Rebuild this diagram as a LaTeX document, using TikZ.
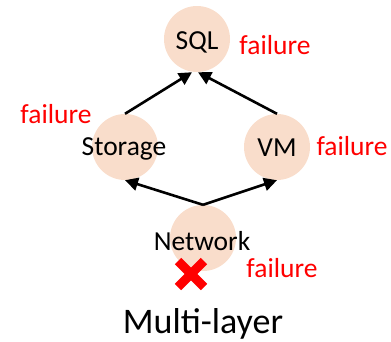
\documentclass[tikz,border=0pt]{standalone}
\usepackage{fontspec}
\setmainfont{Carlito}
\usetikzlibrary{arrows.meta}
\definecolor{peach}{HTML}{F9DDCB}
\definecolor{alarm}{HTML}{FF0000}
\tikzset{
  layer/.style={circle, fill=peach, minimum size=66pt, inner sep=0pt},
  layername/.style={font=\fontsize{27.5}{32}\selectfont, text=black, inner sep=0pt},
  fail/.style={font=\fontsize{27.5}{32}\selectfont, text=alarm, inner sep=0pt},
  dep/.style={line width=2.6pt, -{Triangle[length=13pt,width=13pt]}}
}
\begin{document}
\begin{tikzpicture}[x=1pt, y=-1pt]
\useasboundingbox (0,0) rectangle (391,341);
% service layers
\node[layer] (sql) at (197,39) {};
\node[layer] (st)  at (125,147) {};
\node[layer] (vm)  at (277,147) {};
\node[layer] (net) at (203,238) {};
% dependency arrows
\draw[dep] (st.north)  -- ([xshift=-5pt]sql.south);
\draw[dep] (vm.north)  -- ([xshift=1pt]sql.south);
\draw[dep] (net.north) -- (st.south);
\draw[dep] (net.north) -- (vm.south);
% layer names
\node[layername] (sqlt) at (197,42) {SQL};
\node[layername] (stt)  at (124,149) {Storage};
\node[layername] (vmt)  at (277,148) {VM};
\node[layername] (nett) at (202,241) {Network};
% failure labels
\node[fail] (f1) at (275,45) {failure};
\node[fail] (f2) at (56,114) {failure};
\node[fail] (f3) at (352,146) {failure};
\node[fail] (f4) at (282,268) {failure};
% red cross under the network layer
\coordinate (x) at (191,274);
\draw[alarm, line width=9pt] ([shift={(-13,-13)}]x) -- ([shift={(13,13)}]x);
\draw[alarm, line width=9pt] ([shift={(-13,13)}]x) -- ([shift={(13,-13)}]x);
% caption
\node[font=\fontsize{36}{42}\selectfont, inner sep=0pt, anchor=base] (cap) at (203,333) {Multi-layer};
\end{tikzpicture}
\end{document}
